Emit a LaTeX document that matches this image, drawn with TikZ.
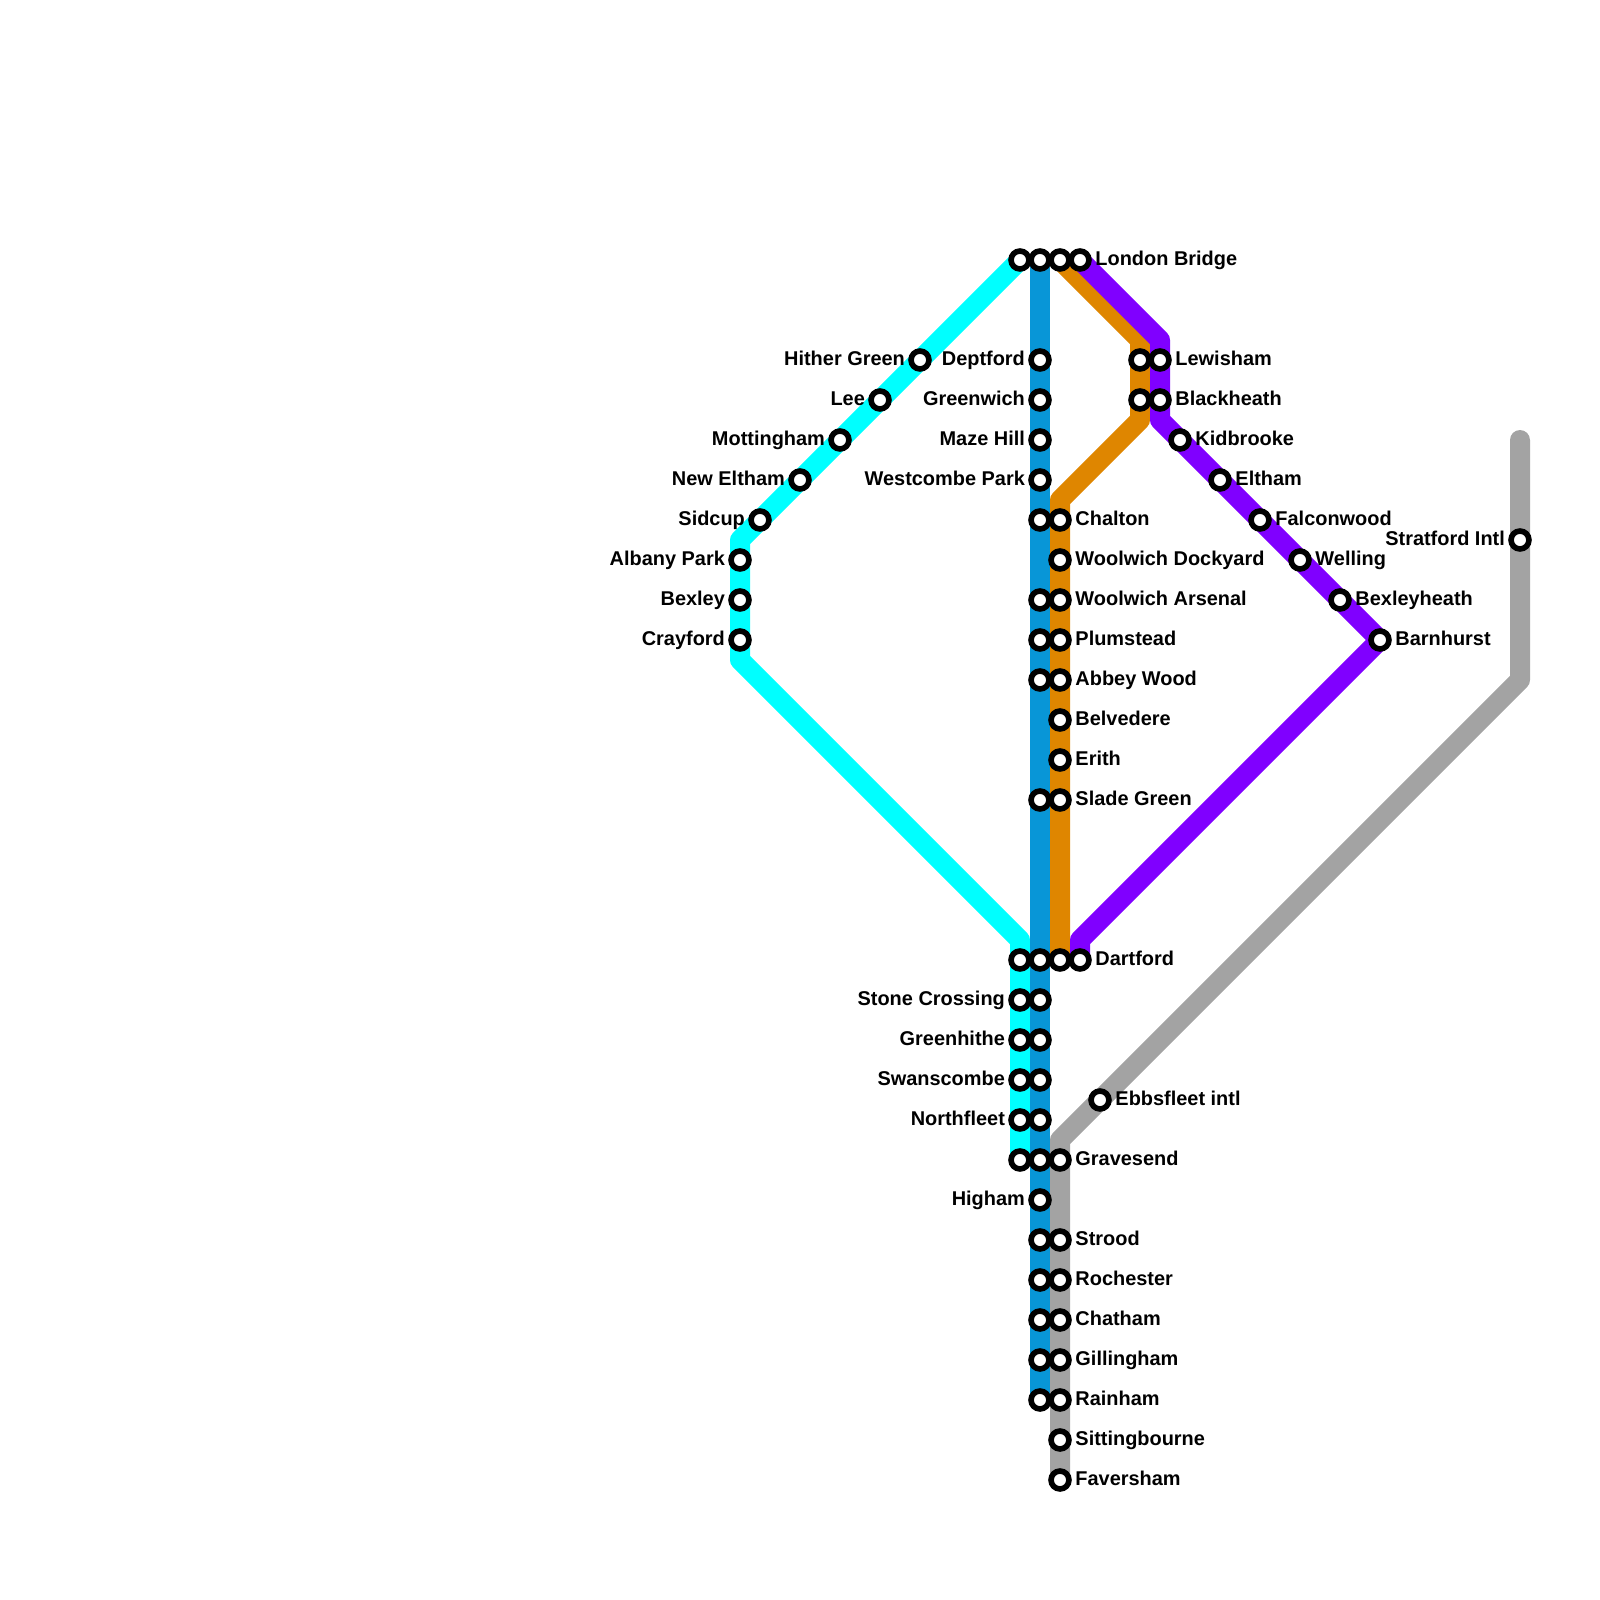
\documentclass[tikz,border=0pt]{standalone}
\usepackage{fontspec}
\setmainfont{Liberation Sans}
\definecolor{cyanline}{HTML}{00FFFF}
\definecolor{blueline}{HTML}{0896D7}
\definecolor{orangeline}{HTML}{DF8600}
\definecolor{purpleline}{HTML}{8000FF}
\definecolor{greyline}{HTML}{A3A3A3}
\tikzset{
    railway/.style={line width=5.69pt,line cap=round,line join=round},
    stn/.style={circle,draw=black,fill=white,line width=1.6pt,minimum size=5.1pt,inner sep=0pt},
    txtr/.style={anchor=base west,inner sep=0pt,xshift=4.2pt,yshift=-1.6pt,font=\fontsize{5.67}{6}\selectfont\bfseries},
    txtl/.style={anchor=base east,inner sep=0pt,xshift=-4.1pt,yshift=-1.6pt,font=\fontsize{5.67}{6}\selectfont\bfseries}
}
\begin{document}
\begin{tikzpicture}[x=0.2cm,y=-0.2cm]
    \useasboundingbox (0,0) rectangle (80,80);

    % bends of the lines
    \coordinate (cyanA) at (51,13);
    \coordinate (cyanB) at (37,27);
    \coordinate (cyanC) at (37,33);
    \coordinate (cyanD) at (51,47);
    \coordinate (cyanE) at (51,58);
    \coordinate (blueA) at (52,13);
    \coordinate (blueB) at (52,70);
    \coordinate (orangeA) at (53,13);
    \coordinate (orangeB) at (57,17);
    \coordinate (orangeC) at (57,21);
    \coordinate (orangeD) at (53,25);
    \coordinate (orangeE) at (53,48);
    \coordinate (purpleA) at (54,13);
    \coordinate (purpleB) at (58,17);
    \coordinate (purpleC) at (58,21);
    \coordinate (purpleD) at (69,32);
    \coordinate (purpleE) at (54,47);
    \coordinate (purpleF) at (54,48);
    \coordinate (greyA) at (76,22);
    \coordinate (greyB) at (76,34);
    \coordinate (greyC) at (53,57);
    \coordinate (greyD) at (53,74);

    % lines
    \draw[railway,cyanline] (cyanA) -- (cyanB) -- (cyanC) -- (cyanD) -- (cyanE);
    \draw[railway,blueline] (blueA) -- (blueB);
    \draw[railway,orangeline] (orangeA) -- (orangeB) -- (orangeC) -- (orangeD) -- (orangeE);
    \draw[railway,purpleline] (purpleA) -- (purpleB) -- (purpleC) -- (purpleD) -- (purpleE) -- (purpleF);
    \draw[railway,greyline] (greyA) -- (greyB) -- (greyC) -- (greyD);

    % cyan stations
    \node[stn] (cyantop) at (51,13) {};
    \node[stn] (hithergreen) at (46,18) {};
    \node[txtl] (hithergreentxt) at (hithergreen) {Hither Green};
    \node[stn] (lee) at (44,20) {};
    \node[txtl] (leetxt) at (lee) {Lee};
    \node[stn] (mottingham) at (42,22) {};
    \node[txtl] (mottinghamtxt) at (mottingham) {Mottingham};
    \node[stn] (neweltham) at (40,24) {};
    \node[txtl] (newelthamtxt) at (neweltham) {New Eltham};
    \node[stn] (sidcup) at (38,26) {};
    \node[txtl] (sidcuptxt) at (sidcup) {Sidcup};
    \node[stn] (albanypark) at (37,28) {};
    \node[txtl] (albanyparktxt) at (albanypark) {Albany Park};
    \node[stn] (bexley) at (37,30) {};
    \node[txtl] (bexleytxt) at (bexley) {Bexley};
    \node[stn] (crayford) at (37,32) {};
    \node[txtl] (crayfordtxt) at (crayford) {Crayford};
    \node[stn] (cyandartford) at (51,48) {};
    \node[stn] (stonecrossing) at (51,50) {};
    \node[txtl] (stonecrossingtxt) at (stonecrossing) {Stone Crossing};
    \node[stn] (greenhithe) at (51,52) {};
    \node[txtl] (greenhithetxt) at (greenhithe) {Greenhithe};
    \node[stn] (swanscombe) at (51,54) {};
    \node[txtl] (swanscombetxt) at (swanscombe) {Swanscombe};
    \node[stn] (northfleet) at (51,56) {};
    \node[txtl] (northfleettxt) at (northfleet) {Northfleet};
    \node[stn] (cyangravesend) at (51,58) {};

    % blue stations
    \node[stn] (bluetop) at (52,13) {};
    \node[stn] (deptford) at (52,18) {};
    \node[txtl] (deptfordtxt) at (deptford) {Deptford};
    \node[stn] (greenwich) at (52,20) {};
    \node[txtl] (greenwichtxt) at (greenwich) {Greenwich};
    \node[stn] (mazehill) at (52,22) {};
    \node[txtl] (mazehilltxt) at (mazehill) {Maze Hill};
    \node[stn] (westcombepark) at (52,24) {};
    \node[txtl] (westcombeparktxt) at (westcombepark) {Westcombe Park};
    \node[stn] (bluechalton) at (52,26) {};
    \node[stn] (bluearsenal) at (52,30) {};
    \node[stn] (blueplumstead) at (52,32) {};
    \node[stn] (blueabbeywood) at (52,34) {};
    \node[stn] (blueslade) at (52,40) {};
    \node[stn] (bluedartford) at (52,48) {};
    \node[stn] (bluestone) at (52,50) {};
    \node[stn] (bluegreenhithe) at (52,52) {};
    \node[stn] (blueswanscombe) at (52,54) {};
    \node[stn] (bluenorthfleet) at (52,56) {};
    \node[stn] (bluegravesend) at (52,58) {};
    \node[stn] (higham) at (52,60) {};
    \node[txtl] (highamtxt) at (higham) {Higham};
    \node[stn] (bluestrood) at (52,62) {};
    \node[stn] (bluerochester) at (52,64) {};
    \node[stn] (bluechatham) at (52,66) {};
    \node[stn] (bluegillingham) at (52,68) {};
    \node[stn] (bluerainham) at (52,70) {};

    % orange stations
    \node[stn] (orangetop) at (53,13) {};
    \node[stn] (orangelewisham) at (57,18) {};
    \node[stn] (orangeblackheath) at (57,20) {};
    \node[stn] (chalton) at (53,26) {};
    \node[txtr] (chaltontxt) at (chalton) {Chalton};
    \node[stn] (woolwichdockyard) at (53,28) {};
    \node[txtr] (woolwichdockyardtxt) at (woolwichdockyard) {Woolwich Dockyard};
    \node[stn] (woolwicharsenal) at (53,30) {};
    \node[txtr] (woolwicharsenaltxt) at (woolwicharsenal) {Woolwich Arsenal};
    \node[stn] (plumstead) at (53,32) {};
    \node[txtr] (plumsteadtxt) at (plumstead) {Plumstead};
    \node[stn] (abbeywood) at (53,34) {};
    \node[txtr] (abbeywoodtxt) at (abbeywood) {Abbey Wood};
    \node[stn] (belvedere) at (53,36) {};
    \node[txtr] (belvederetxt) at (belvedere) {Belvedere};
    \node[stn] (erith) at (53,38) {};
    \node[txtr] (erithtxt) at (erith) {Erith};
    \node[stn] (sladegreen) at (53,40) {};
    \node[txtr] (sladegreentxt) at (sladegreen) {Slade Green};
    \node[stn] (orangedartford) at (53,48) {};

    % purple stations
    \node[stn] (londonbridge) at (54,13) {};
    \node[txtr] (londonbridgetxt) at (londonbridge) {London Bridge};
    \node[stn] (lewisham) at (58,18) {};
    \node[txtr] (lewishamtxt) at (lewisham) {Lewisham};
    \node[stn] (blackheath) at (58,20) {};
    \node[txtr] (blackheathtxt) at (blackheath) {Blackheath};
    \node[stn] (kidbrooke) at (59,22) {};
    \node[txtr] (kidbrooketxt) at (kidbrooke) {Kidbrooke};
    \node[stn] (eltham) at (61,24) {};
    \node[txtr] (elthamtxt) at (eltham) {Eltham};
    \node[stn] (falconwood) at (63,26) {};
    \node[txtr] (falconwoodtxt) at (falconwood) {Falconwood};
    \node[stn] (welling) at (65,28) {};
    \node[txtr] (wellingtxt) at (welling) {Welling};
    \node[stn] (bexleyheath) at (67,30) {};
    \node[txtr] (bexleyheathtxt) at (bexleyheath) {Bexleyheath};
    \node[stn] (barnhurst) at (69,32) {};
    \node[txtr] (barnhursttxt) at (barnhurst) {Barnhurst};
    \node[stn] (dartford) at (54,48) {};
    \node[txtr] (dartfordtxt) at (dartford) {Dartford};

    % grey stations
    \node[stn] (stratfordintl) at (76,27) {};
    \node[txtl] (stratfordintltxt) at (stratfordintl) {Stratford Intl};
    \node[stn] (ebbsfleetintl) at (55,55) {};
    \node[txtr] (ebbsfleetintltxt) at (ebbsfleetintl) {Ebbsfleet intl};
    \node[stn] (gravesend) at (53,58) {};
    \node[txtr] (gravesendtxt) at (gravesend) {Gravesend};
    \node[stn] (strood) at (53,62) {};
    \node[txtr] (stroodtxt) at (strood) {Strood};
    \node[stn] (rochester) at (53,64) {};
    \node[txtr] (rochestertxt) at (rochester) {Rochester};
    \node[stn] (chatham) at (53,66) {};
    \node[txtr] (chathamtxt) at (chatham) {Chatham};
    \node[stn] (gillingham) at (53,68) {};
    \node[txtr] (gillinghamtxt) at (gillingham) {Gillingham};
    \node[stn] (rainham) at (53,70) {};
    \node[txtr] (rainhamtxt) at (rainham) {Rainham};
    \node[stn] (sittingbourne) at (53,72) {};
    \node[txtr] (sittingbournetxt) at (sittingbourne) {Sittingbourne};
    \node[stn] (faversham) at (53,74) {};
    \node[txtr] (favershamtxt) at (faversham) {Faversham};
\end{tikzpicture}
\end{document}
